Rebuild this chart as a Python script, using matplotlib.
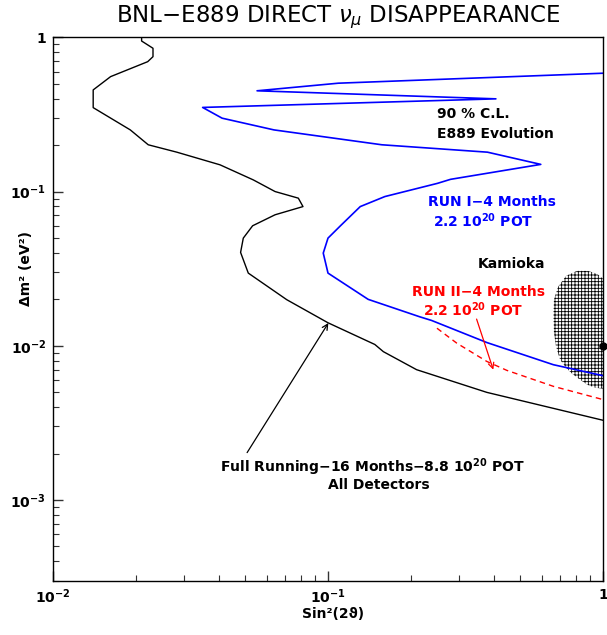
import matplotlib
matplotlib.use("Agg")
import matplotlib.pyplot as plt
from matplotlib.ticker import LogLocator, NullFormatter, FixedLocator, FixedFormatter

plt.rcParams["font.family"] = ["DejaVu Sans"]
plt.rcParams["hatch.linewidth"] = 0.6

# 90% C.L. contours (sin^2 2theta, dm^2 in eV^2)
full_x = [0.0210, 0.0210, 0.0231, 0.0231, 0.0221, 0.0162, 0.0140, 0.0140, 0.0191, 0.0222,
          0.0282, 0.0405, 0.0535, 0.0642, 0.0780, 0.0811, 0.0642, 0.0532, 0.0492, 0.0481,
          0.0513, 0.0708, 0.100, 0.148, 0.159, 0.210, 0.378, 1.0]
full_y = [1.0, 0.946, 0.849, 0.749, 0.695, 0.556, 0.456, 0.350, 0.251, 0.201,
          0.180, 0.149, 0.119, 0.100, 0.0906, 0.0799, 0.0707, 0.0600, 0.0499, 0.0403,
          0.0296, 0.0199, 0.0141, 0.0102, 0.00916, 0.0070, 0.00499, 0.00329]

run1_x = [1.0, 0.109, 0.0552, 0.408, 0.0350, 0.0412, 0.0636, 0.157, 0.380, 0.594,
          0.279, 0.250, 0.161, 0.131, 0.111, 0.100, 0.0961, 0.100, 0.140, 0.216,
          0.238, 0.378, 0.660, 1.0]
run1_y = [0.585, 0.504, 0.450, 0.399, 0.351, 0.299, 0.251, 0.201, 0.180, 0.150,
          0.120, 0.113, 0.0928, 0.0799, 0.0600, 0.0499, 0.0399, 0.0296, 0.0200, 0.0154,
          0.0146, 0.0105, 0.00754, 0.0064]

run2_x = [0.249, 0.294, 0.378, 0.447, 0.660, 1.0]
run2_y = [0.0130, 0.0104, 0.00792, 0.00693, 0.00546, 0.00448]

kamioka_x = [1.0, 0.951, 0.882, 0.804, 0.734, 0.686, 0.663, 0.660, 0.663, 0.675,
             0.698, 0.734, 0.771, 0.825, 0.875, 0.935, 1.0]
kamioka_y = [0.0272, 0.0293, 0.0306, 0.0306, 0.0284, 0.0241, 0.0199, 0.0159, 0.0122, 0.00987,
             0.00813, 0.00721, 0.0066, 0.00603, 0.0056, 0.00535, 0.00527]
kamioka_best = (1.0, 0.01)

x_ticks = [0.01, 0.1, 1.0]
x_ticklabels = [r"$\mathdefault{10^{-2}}$", r"$\mathdefault{10^{-1}}$", "1"]
y_ticks = [0.001, 0.01, 0.1, 1.0]
y_ticklabels = [r"$\mathdefault{10^{-3}}$", r"$\mathdefault{10^{-2}}$",
                r"$\mathdefault{10^{-1}}$", "1"]

fig = plt.figure(figsize=(6.07, 6.35), dpi=100)
ax = fig.add_axes([53 / 607, 54.3 / 635, 550 / 607, 543.4 / 635])

ax.set_xscale("log")
ax.set_yscale("log")
ax.set_xlim(0.01, 1.0)
ax.set_ylim(3e-4, 1.0)

# Kamioka allowed region
ax.fill(kamioka_x + [1.5, 1.5], kamioka_y + [0.00527, 0.0272], facecolor="none",
        edgecolor="black", linewidth=0, hatch="+++++")
ax.plot([kamioka_best[0]], [kamioka_best[1]], "o", color="black", ms=5, clip_on=False, zorder=5)

ax.plot(full_x, full_y, color="black", lw=1.0)
ax.plot(run1_x, run1_y, color="#0000ff", lw=1.2)
ax.plot(run2_x, run2_y, color="#ff0000", lw=1.0, dashes=(4, 3))

ax.annotate("", xy=(0.1003, 0.01405), xytext=(0.0508, 0.00203),
            arrowprops=dict(arrowstyle="->", color="black", lw=0.9,
                            shrinkA=0, shrinkB=0, mutation_scale=10))
ax.annotate("", xy=(0.399, 0.0070), xytext=(0.347, 0.0149),
            arrowprops=dict(arrowstyle="->", color="#ff0000", lw=0.9,
                            shrinkA=0, shrinkB=0, mutation_scale=10))

tkw = dict(transform=ax.transAxes, fontsize=10, fontweight="bold", va="center", ha="left")
ax.text(0.698, 0.859, "90 % C.L.", color="black", **tkw)
ax.text(0.698, 0.822, "E889 Evolution", color="black", **tkw)
ax.text(0.682, 0.697, "RUN I−4 Months", color="#0000ff", **tkw)
ax.text(0.691, 0.662, r"2.2 $\mathdefault{10^{20}}$ POT", color="#0000ff", **tkw)
ax.text(0.773, 0.583, "Kamioka", color="black", **tkw)
ax.text(0.653, 0.531, "RUN II−4 Months", color="#ff0000", **tkw)
ax.text(0.673, 0.498, r"2.2 $\mathdefault{10^{20}}$ POT", color="#ff0000", **tkw)
ax.text(0.304, 0.209, r"Full Running−16 Months−8.8 $\mathdefault{10^{20}}$ POT", color="black", **tkw)
ax.text(0.500, 0.177, "All Detectors", color="black", **tkw)

# axes, ticks
ax.xaxis.set_major_locator(FixedLocator(x_ticks))
ax.xaxis.set_major_formatter(FixedFormatter(x_ticklabels))
ax.yaxis.set_major_locator(FixedLocator(y_ticks))
ax.yaxis.set_major_formatter(FixedFormatter(y_ticklabels))
ax.xaxis.set_minor_locator(LogLocator(base=10, subs=range(2, 10)))
ax.yaxis.set_minor_locator(LogLocator(base=10, subs=range(2, 10)))
ax.xaxis.set_minor_formatter(NullFormatter())
ax.yaxis.set_minor_formatter(NullFormatter())
ax.tick_params(which="both", direction="in", top=False, right=False, color="#333333")
ax.tick_params(which="major", length=7, width=1.0, labelsize=10, pad=5)
ax.tick_params(which="minor", length=4, width=0.8)
for lab in ax.get_xticklabels() + ax.get_yticklabels():
    lab.set_fontweight("bold")
for s in ax.spines.values():
    s.set_linewidth(1.0)
    s.set_color("black")

ax.set_xlabel("Sin²(2ϑ)", fontsize=10, fontweight="bold")
ax.xaxis.set_label_coords(0.509, -0.048)
ax.set_ylabel("Δm² (eV²)", fontsize=10, fontweight="bold")
ax.yaxis.set_label_coords(-0.036, 0.574)

fig.text(338 / 607, 1 - 17 / 635, r"BNL−E889 DIRECT $\nu_\mu$ DISAPPEARANCE",
         ha="center", va="center", fontsize=16.5)

fig.savefig("out.png", dpi=100)
